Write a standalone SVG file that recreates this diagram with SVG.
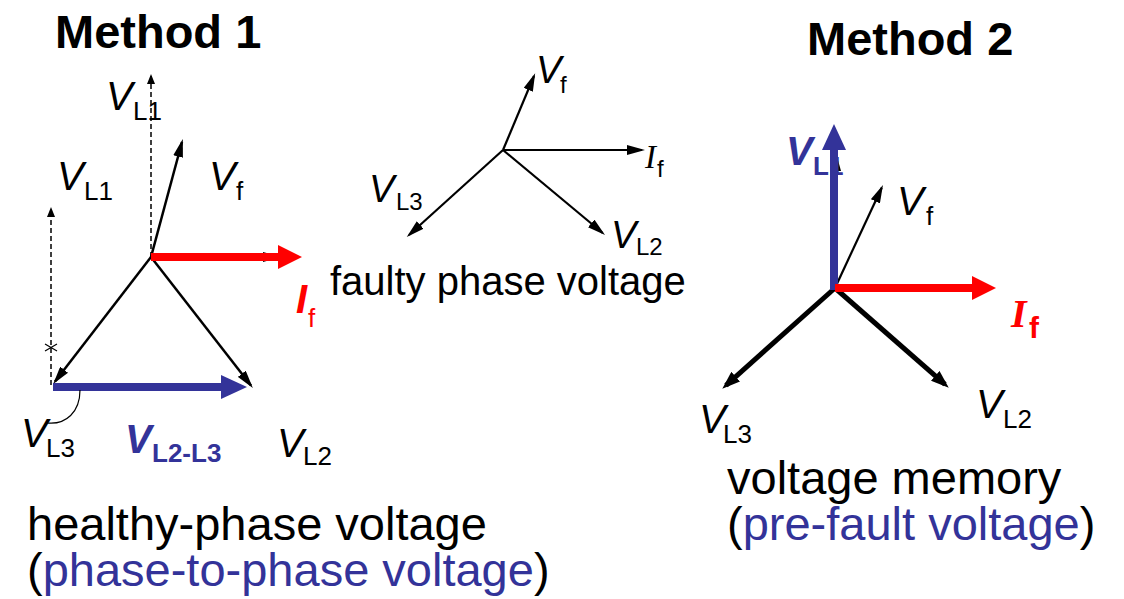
<svg xmlns="http://www.w3.org/2000/svg" width="1124" height="599" viewBox="0 0 1124 599">
<style>
text{font-family:"Liberation Sans",Arial,sans-serif;fill:#000}
.title{font-size:47px;font-weight:bold}
.v{font-size:40px;font-style:italic}
.vm{font-size:38px;font-style:italic}
.sub{font-size:26px;font-style:normal}
.subm{font-size:24px;font-style:normal}
.cap{font-size:47px}
.blue{fill:#333399}
.red{fill:#ff0000}
.bb{font-weight:bold}
.ln{stroke:#000;stroke-width:2.5;fill:none;marker-end:url(#ah)}
.lnm{stroke:#000;stroke-width:2.2;fill:none;marker-end:url(#ah)}
.dash{stroke:#000;stroke-width:1.5;stroke-dasharray:5 3;fill:none;marker-end:url(#ahs)}
.thk{stroke:#000;stroke-width:5;fill:none;marker-end:url(#ahk)}
.redl{stroke:#ff0000;stroke-width:8;fill:none;marker-end:url(#ahr)}
.bluel{stroke:#333399;stroke-width:8;fill:none;marker-end:url(#ahb)}
</style>
<defs>
<marker id="ah" markerUnits="userSpaceOnUse" markerWidth="18" markerHeight="10" refX="15" refY="5" orient="auto"><path d="M0,0 L18,5 L0,10 z" fill="#000"/></marker>
<marker id="ahs" markerUnits="userSpaceOnUse" markerWidth="10" markerHeight="8" refX="8" refY="4" orient="auto"><path d="M0,0 L10,4 L0,8 z" fill="#000"/></marker>
<marker id="ahk" markerUnits="userSpaceOnUse" markerWidth="18" markerHeight="13" refX="13" refY="6.5" orient="auto"><path d="M0,0 L18,6.5 L0,13 z" fill="#000"/></marker>
<marker id="ahr" markerUnits="userSpaceOnUse" markerWidth="24" markerHeight="24" refX="1" refY="12" orient="auto"><path d="M0,0 L24,12 L0,24 z" fill="#ff0000"/></marker>
<marker id="ahb" markerUnits="userSpaceOnUse" markerWidth="26" markerHeight="24" refX="1" refY="12" orient="auto"><path d="M0,0 L26,12 L0,24 z" fill="#333399"/></marker>
</defs>

<g id="titles">
<text class="title" x="55" y="48">Method 1</text>
<text class="title" x="807" y="55">Method 2</text>
</g>

<g id="connectors">
<!-- Method 1 -->
<path class="dash" d="M151,257 L151,76"/>
<path class="dash" d="M51,385 L51,209"/>
<path d="M45,344 L57,351 M45,351 L57,344" stroke="#000" stroke-width="1.2" fill="none"/>
<path class="ln" d="M151,257 L182,142"/>
<path class="ln" d="M151,257 L55,381.6"/>
<path class="ln" d="M151,257 L251,385.6"/>
<path class="ln" d="M151,257 L278,257"/>
<path class="redl" d="M151,257 L279,257"/>
<path class="bluel" d="M53,387 L222,387"/>
<path d="M80,390 C80,412 66,425 47,423" stroke="#000" stroke-width="1.2" fill="none"/>
<!-- middle -->
<path class="lnm" d="M503,150 L534,76"/>
<path class="lnm" d="M503,150 L642,150"/>
<path class="lnm" d="M503,150 L409,235"/>
<path class="lnm" d="M503,150 L602.7,233"/>
<!-- Method 2 -->
<path class="lnm" d="M835,288 L881.7,187.7"/>
<path class="thk" d="M835,288 L726,385.3"/>
<path class="thk" d="M835,288 L945,384.4"/>
<path class="lnm" d="M836,288 L836,156"/>
</g>

<g id="m1-labels">
<text class="v" x="106" y="110">V<tspan class="sub" x="133" y="120">L1</tspan></text>
<text class="v" x="57" y="190">V<tspan class="sub" x="84" y="200">L1</tspan></text>
<text class="v" x="209" y="190">V<tspan class="sub" x="236" y="200">f</tspan></text>
<text class="v red bb" x="296" y="313">I<tspan class="sub red" x="308" y="327" font-weight="normal">f</tspan></text>
<text class="v" x="21" y="447">V<tspan class="sub" x="46" y="457">L3</tspan></text>
<text class="v blue bb" x="125" y="453">V<tspan class="sub blue" x="152" y="462">L2-L3</tspan></text>
<text class="v" x="277" y="457">V<tspan class="sub" x="303" y="465">L2</tspan></text>
<text class="cap" x="27" y="540">healthy-phase voltage<tspan x="27" y="586">(</tspan><tspan class="blue">phase-to-phase voltage</tspan>)</text>
</g>

<g id="middle-labels">
<text class="vm" x="536" y="83">V<tspan class="subm" x="560" y="93">f</tspan></text>
<text x="645" y="168" style="font-family:'Liberation Serif','Times New Roman',serif;font-style:italic;font-size:33px">I<tspan x="657" y="177" style="font-family:'Liberation Sans',Arial,sans-serif;font-style:normal;font-size:24px">f</tspan></text>
<text class="vm" x="369" y="202">V<tspan class="subm" x="396" y="210">L3</tspan></text>
<text class="vm" x="611" y="248">V<tspan class="subm" x="636" y="255">L2</tspan></text>
<text x="330" y="295" style="font-size:40px">faulty phase voltage</text>
</g>

<g id="m2-labels">
<text class="v blue bb" x="786" y="165">V<tspan class="sub blue" x="813" y="175">L1</tspan></text>
<text class="v" x="897" y="215">V<tspan class="sub" x="926" y="225">f</tspan></text>
<text x="1011" y="327" class="red" style="font-family:'Liberation Serif','Times New Roman',serif;font-style:italic;font-weight:bold;font-size:40px">I<tspan x="1029" y="338" style="font-family:'Liberation Sans',Arial,sans-serif;font-style:normal;font-size:30px">f</tspan></text>
<text class="v" x="699" y="433">V<tspan class="sub" x="723" y="443">L3</tspan></text>
<text class="v" x="976" y="418">V<tspan class="sub" x="1003" y="428">L2</tspan></text>
<text class="cap" x="727" y="494">voltage memory<tspan x="727" y="540">(</tspan><tspan class="blue">pre-fault voltage</tspan>)</text>
</g>

<g id="m2-arrows">
<path class="bluel" d="M834,290 L834,149"/>
<path class="redl" d="M835,288 L973,288"/>
</g>
</svg>
